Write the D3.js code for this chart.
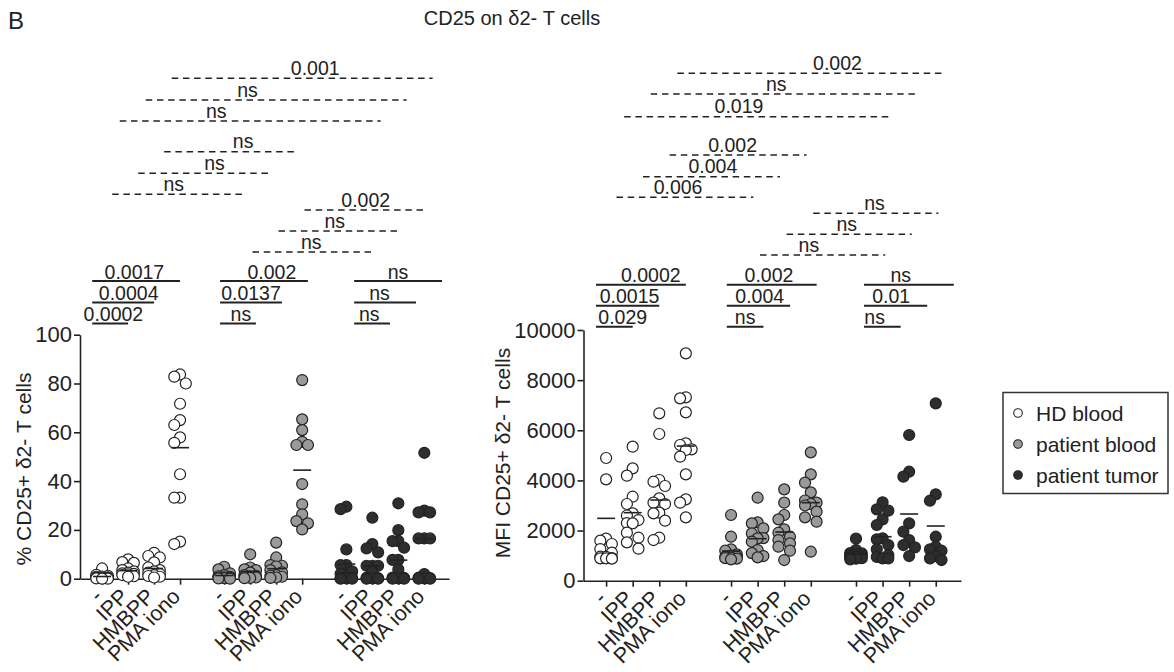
<!DOCTYPE html>
<html><head><meta charset="utf-8">
<script src="https://cdn.jsdelivr.net/npm/d3@7"></script>
<style>
body{margin:0;background:#fff}
svg text{font-family:"Liberation Sans",Arial,Helvetica,sans-serif;fill:#222}
</style>
</head><body>
<svg id="c" width="1174" height="672"></svg>
<script>
// ---------------- DATA ----------------
const stimuli = ["-", "IPP", "HMBPP", "PMA iono"];
const groups = ["HD blood", "patient blood", "patient tumor"];
const pctTicks = [0, 20, 40, 60, 80, 100];
const mfiTicks = [0, 2000, 4000, 6000, 8000, 10000];

// % CD25+ δ2- T cells  (per stimulus: -, IPP, HMBPP, PMA iono)
const pctHD = [
  [4.2, 1.6, 1.2, 0.8, 0.5, 0.3, 0.2, 0.1, 0, 0, 0.6, 0.4, 0.9],
  [7.9, 6.8, 6.5, 4.2, 3.5, 3.0, 2.5, 2.2, 1.8, 1.5, 1.0, 0.8, 2.0],
  [10.6, 9.3, 8.7, 6.7, 4.6, 3.5, 3.0, 1.9, 1.5, 1.1, 0.8, 2.5, 0.5],
  [83.7, 82.8, 80, 71.7, 65, 63, 57.9, 55.7, 42.8, 33.2, 33.2, 15.2, 14.2]
];
const pctPB = [
  [4.9, 3.8, 2.2, 1.5, 0.8, 0.5, 0.2, 0, 0.1, 0.3, 1.0, 0.6],
  [10.0, 4.6, 3.8, 3.5, 2.5, 1.0, 0.8, 0.5, 0.2, 0.3, 1.5, 1.2],
  [14.8, 8.7, 5.6, 5.3, 5.0, 3.5, 2.6, 1.5, 0.8, 0.3, 0.5, 1.2],
  [81.4, 65.3, 60.9, 56.1, 54.8, 54.8, 38.8, 30.5, 26.4, 23.6, 22.7, 20.2]
];
const pctPT = [
  [29.5, 28.5, 12.0, 5.6, 5.6, 3.0, 2.0, 0.5, 0.2, 0, 0, 0.1, 0.3],
  [25.0, 14.2, 12.4, 10.8, 5.3, 5.3, 5.3, 2.9, 0, 0, 0.2, 0.4, 0.1],
  [30.9, 19.9, 15.4, 15.4, 12.7, 7.7, 7.7, 3.8, 0, 0, 0.3, 0.1, 0.5],
  [51.6, 27.9, 27.2, 27.2, 16.5, 16.5, 16.5, 1.9, 0, 0, 0.2, 0.4, 0.1]
];
const pctMeans = [[0.9, 3.3, 4.2, 53.7], [1.3, 2.9, 4.1, 44.5], [6.0, 5.2, 7.6, 16.4]];

// MFI CD25+ δ2- T cells
const mfiHD = [
  [4894, 4043, 1676, 1596, 1463, 1263, 1117, 957, 891, 891, 880, 900, 950],
  [5346, 4481, 4189, 3351, 3059, 2686, 2600, 2420, 2300, 2287, 1915, 1715, 1529, 1277],
  [6676, 5851, 4016, 3949, 3777, 3285, 3112, 3059, 2713, 2686, 2394, 1715, 1622],
  [9069, 7314, 7274, 6715, 5479, 5412, 5239, 5213, 4947, 4242, 3245, 3112, 2527]
];
const mfiPB = [
  [2620, 1755, 1250, 1197, 1050, 1000, 957, 957, 920, 900, 880, 851],
  [3311, 2327, 2287, 2088, 1888, 1700, 1689, 1556, 1223, 1100, 984, 931],
  [3644, 3112, 2620, 2447, 2048, 1915, 1755, 1622, 1489, 1356, 1197, 824],
  [5120, 4242, 3910, 3524, 3200, 3112, 3059, 3000, 2753, 2527, 2354, 1157]
];
const mfiPT = [
  [1676, 1223, 1100, 1090, 1000, 984, 950, 931, 900, 880, 851, 1050],
  [3125, 2846, 2793, 2447, 2221, 1689, 1649, 1423, 1250, 1024, 891, 891, 950],
  [5811, 4348, 4149, 2287, 1955, 1622, 1423, 1330, 984],
  [7074, 3444, 3191, 1755, 1356, 1250, 1197, 984, 891, 824]
];
const mfiMeans = [[2487, 2713, 3218, 5372], [1184, 1676, 1941, 3112], [1060, 1755, 2660, 2181]];

// p values: within group (- vs IPP, - vs HMBPP, - vs PMA iono)
const pctWithin = [["0.0002", "0.0004", "0.0017"], ["ns", "0.0137", "0.002"], ["ns", "ns", "ns"]];
const mfiWithin = [["0.029", "0.0015", "0.0002"], ["ns", "0.004", "0.002"], ["ns", "0.01", "ns"]];
// between groups (bottom to top)
const pctHDvsPB = ["ns", "ns", "ns"];
const pctHDvsPT = ["ns", "ns", "0.001"];
const pctPBvsPT = ["ns", "ns", "0.002"];
const mfiHDvsPB = ["0.006", "0.004", "0.002"];
const mfiHDvsPT = ["0.019", "ns", "0.002"];
const mfiPBvsPT = ["ns", "ns", "ns"];

// ---------------- LAYOUT ----------------
const fills = ["#ffffff", "#9a9a9a", "#2e2e2e"];
const ink = "#222";
const slot = (g, i) => g * 4.7 + i;
const svg = d3.select("#c");

function swarm(vals, y, r) {
  const pts = vals.map(v => ({v, py: y(v)})).sort((a, b) => a.py - b.py);
  const step = r * 1.05, offs = [0, -1, 1].map(k => k * step);
  const placed = [];
  pts.forEach(p => {
    let chosen = null, bestD = -1, bestO = 0;
    for (const o of offs) {
      let d = Infinity;
      placed.forEach(q => { d = Math.min(d, Math.hypot(o - q.dx, p.py - q.py)); });
      if (d >= 2 * r * 0.85) { chosen = o; break; }
      if (d > bestD) { bestD = d; bestO = o; }
    }
    p.dx = chosen === null ? bestO : chosen;
    placed.push(p);
  });
  return pts;
}

function panel(o) {
  const x = d3.scaleLinear().domain([-0.85, 13.35]).range(o.xRange);
  const y = d3.scaleLinear().domain([0, o.yTicks[o.yTicks.length - 1]]).range(o.yRange);
  const g = svg.append("g");
  const cats = [];
  for (let k = 0; k < 3; k++) for (let i = 0; i < 4; i++) cats.push(slot(k, i));

  // x axis
  const xa = g.append("g").attr("transform", `translate(0,${o.yRange[0]})`)
    .call(d3.axisBottom(x).tickValues(cats).tickFormat((d, k) => stimuli[k % 4]).tickSize(6).tickSizeOuter(0));
  xa.selectAll("text").attr("text-anchor", "end").attr("x", 0).attr("y", 0).attr("dy", 0)
    .attr("transform", "translate(1,19) rotate(-45)").style("font-size", "21.5px");
  // y axis
  const ya = g.append("g").attr("transform", `translate(${o.xRange[0]},0)`)
    .call(d3.axisLeft(y).tickValues(o.yTicks).tickSize(6).tickSizeOuter(0).tickFormat(d3.format("d")));
  ya.selectAll("text").style("font-size", "22px").attr("x", -8);
  g.selectAll(".domain, .tick line").attr("stroke", ink).attr("stroke-width", 1.6);
  g.selectAll(".tick text").attr("fill", ink);

  g.append("text").attr("transform", `translate(${o.titleX},${o.titleY}) rotate(-90)`)
    .attr("text-anchor", "middle").style("font-size", "21px").text(o.yTitle);

  // points
  o.series.forEach((ser, k) => {
    ser.forEach((vals, i) => {
      const cx = x(slot(k, i));
      g.append("g").selectAll("circle").data(swarm(vals, y, 5.5)).join("circle")
        .attr("cx", d => cx + d.dx).attr("cy", d => d.py).attr("r", 5.5)
        .attr("fill", fills[k]).attr("stroke", ink).attr("stroke-width", 1.2);
    });
  });
  // means
  o.means.forEach((ms, k) => ms.forEach((m, i) => {
    const cx = x(slot(k, i));
    g.append("line").attr("x1", cx - 9).attr("x2", cx + 9).attr("y1", y(m)).attr("y2", y(m))
      .attr("stroke", ink).attr("stroke-width", 1.6);
  }));

  const shift = [0, 0.22, 0.68];
  function bar(x1, x2, yy, label, frac, dashed, dy) {
    g.append("line").attr("x1", x(x1)).attr("x2", x(x2)).attr("y1", yy).attr("y2", yy)
      .attr("stroke", ink).attr("stroke-width", dashed ? 1.6 : 2)
      .attr("stroke-dasharray", dashed ? "6.5,4.7" : null);
    g.append("text").attr("x", x(x1 + (x2 - x1) * frac)).attr("y", yy + dy)
      .attr("text-anchor", "middle").style("font-size", "19.5px").text(label);
  }
  // within-group comparisons
  o.within.forEach((labels, k) => labels.forEach((lab, r) => {
    bar(slot(k, 0) + shift[k] - 0.38, slot(k, r + 1) + shift[k], o.rowsWithin[r], lab, o.fracWithin[k][r], false, -2.5);
  }));
  // between-group comparisons
  o.b12.forEach((lab, r) => bar(slot(0, r) + 0.39, slot(1, r) + 0.84, o.rows12[r], lab, o.frac12[r], true, -3.5));
  o.b13.forEach((lab, r) => bar(slot(0, r) + 0.68, slot(2, r) + 1.32, o.rows13[r], lab, o.frac13[r], true, -3.5));
  o.b23.forEach((lab, r) => bar(slot(1, r + 1) + 0.09, slot(2, r + 1) + 0.10, o.rows23[r], lab, o.frac23[r], true, -3.5));
}

panel({
  xRange: [80, 449], yRange: [578.7, 334.7], yTicks: pctTicks,
  series: [pctHD, pctPB, pctPT], means: pctMeans,
  yTitle: "% CD25+ δ2- T cells", titleX: 31, titleY: 469,
  within: pctWithin, rowsWithin: [323.5, 302.5, 281],
  fracWithin: [[0.59, 0.59, 0.48], [0.58, 0.5, 0.59], [0.42, 0.41, 0.5]],
  b12: pctHDvsPB, rows12: [194.3, 173.3, 151.7], frac12: [0.46, 0.57, 0.59],
  b13: pctHDvsPT, rows13: [121, 100, 78.3], frac13: [0.37, 0.39, 0.55],
  b23: pctPBvsPT, rows23: [252, 231, 210], frac23: [0.48, 0.46, 0.5]
});
panel({
  xRange: [583.5, 961], yRange: [580.7, 330], yTicks: mfiTicks,
  series: [mfiHD, mfiPB, mfiPT], means: mfiMeans,
  yTitle: "MFI CD25+ δ2- T cells", titleX: 510, titleY: 453,
  within: mfiWithin, rowsWithin: [326.7, 305.7, 284.8],
  fracWithin: [[0.73, 0.53, 0.61], [0.5, 0.52, 0.47], [0.29, 0.43, 0.41]],
  b12: mfiHDvsPB, rows12: [197.3, 176.7, 155], frac12: [0.45, 0.51, 0.46],
  b13: mfiHDvsPT, rows13: [116.7, 94, 73.3], frac13: [0.43, 0.47, 0.60],
  b23: mfiPBvsPT, rows23: [255, 234.3, 213.3], frac23: [0.39, 0.48, 0.49]
});

// title & panel letter
svg.append("text").attr("x", 8).attr("y", 29).style("font-size", "24px").text("B");
svg.append("text").attr("x", 512).attr("y", 25).attr("text-anchor", "middle").style("font-size", "20px").text("CD25 on δ2- T cells");

// legend
const lg = svg.append("g");
lg.append("rect").attr("x", 1003).attr("y", 392.5).attr("width", 165).attr("height", 101)
  .attr("fill", "#fff").attr("stroke", "#333").attr("stroke-width", 1.5);
groups.forEach((name, k) => {
  const cy = 413 + k * 31;
  lg.append("circle").attr("cx", 1018).attr("cy", cy).attr("r", 4.3)
    .attr("fill", fills[k]).attr("stroke", ink).attr("stroke-width", 1.1);
  lg.append("text").attr("x", 1036).attr("y", cy + 7.5).style("font-size", "21px").text(name);
});
</script>
</body></html>
